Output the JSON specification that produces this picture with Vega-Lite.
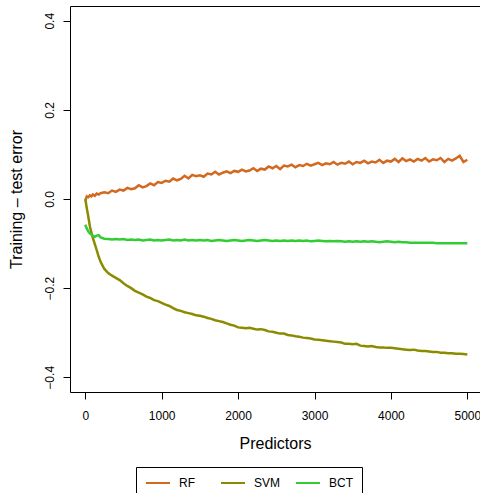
{
"$schema": "https://vega.github.io/schema/vega-lite/v6.json",
"width": 410,
"height": 386,
"autosize": {"type": "none"},
"padding": {"left": 70, "top": 6, "right": 0, "bottom": 101},
"config": {
  "font": "Liberation Sans",
  "view": {"stroke": "black", "strokeWidth": 1},
  "axis": {"domain": false, "grid": false, "tickColor": "black", "tickSize": 7, "labelFontSize": 12, "labelColor": "black", "titleFontSize": 16, "titleFontWeight": "normal", "titleColor": "black", "labelFont": "Liberation Sans", "titleFont": "Liberation Sans"}
},
"data": {"values": [
{"p":0,"RF":0.003,"SVM":0.000,"BCT":-0.058},
{"p":10,"RF":0.001,"SVM":-0.010,"BCT":-0.062},
{"p":20,"RF":0.006,"SVM":-0.021,"BCT":-0.066},
{"p":40,"RF":0.004,"SVM":-0.040,"BCT":-0.073},
{"p":60,"RF":0.008,"SVM":-0.061,"BCT":-0.077},
{"p":80,"RF":0.006,"SVM":-0.075,"BCT":-0.080},
{"p":100,"RF":0.010,"SVM":-0.088,"BCT":-0.083},
{"p":125,"RF":0.007,"SVM":-0.101,"BCT":-0.085},
{"p":150,"RF":0.012,"SVM":-0.115,"BCT":-0.082},
{"p":175,"RF":0.010,"SVM":-0.129,"BCT":-0.081},
{"p":200,"RF":0.013,"SVM":-0.141,"BCT":-0.086},
{"p":250,"RF":0.015,"SVM":-0.157,"BCT":-0.089},
{"p":300,"RF":0.013,"SVM":-0.166,"BCT":-0.090},
{"p":350,"RF":0.019,"SVM":-0.172,"BCT":-0.091},
{"p":400,"RF":0.016,"SVM":-0.177,"BCT":-0.090},
{"p":450,"RF":0.021,"SVM":-0.182,"BCT":-0.091},
{"p":500,"RF":0.019,"SVM":-0.189,"BCT":-0.090},
{"p":550,"RF":0.025,"SVM":-0.195,"BCT":-0.092},
{"p":600,"RF":0.022,"SVM":-0.200,"BCT":-0.091},
{"p":650,"RF":0.024,"SVM":-0.206,"BCT":-0.092},
{"p":700,"RF":0.031,"SVM":-0.210,"BCT":-0.091},
{"p":750,"RF":0.026,"SVM":-0.214,"BCT":-0.093},
{"p":800,"RF":0.029,"SVM":-0.219,"BCT":-0.092},
{"p":850,"RF":0.035,"SVM":-0.222,"BCT":-0.091},
{"p":900,"RF":0.031,"SVM":-0.227,"BCT":-0.093},
{"p":950,"RF":0.038,"SVM":-0.229,"BCT":-0.092},
{"p":1000,"RF":0.036,"SVM":-0.233,"BCT":-0.093},
{"p":1050,"RF":0.041,"SVM":-0.237,"BCT":-0.092},
{"p":1100,"RF":0.039,"SVM":-0.240,"BCT":-0.091},
{"p":1150,"RF":0.046,"SVM":-0.245,"BCT":-0.093},
{"p":1200,"RF":0.042,"SVM":-0.249,"BCT":-0.092},
{"p":1250,"RF":0.045,"SVM":-0.251,"BCT":-0.093},
{"p":1300,"RF":0.052,"SVM":-0.254,"BCT":-0.091},
{"p":1350,"RF":0.046,"SVM":-0.256,"BCT":-0.093},
{"p":1400,"RF":0.054,"SVM":-0.258,"BCT":-0.092},
{"p":1450,"RF":0.051,"SVM":-0.261,"BCT":-0.093},
{"p":1500,"RF":0.053,"SVM":-0.262,"BCT":-0.092},
{"p":1550,"RF":0.050,"SVM":-0.264,"BCT":-0.093},
{"p":1600,"RF":0.057,"SVM":-0.267,"BCT":-0.092},
{"p":1650,"RF":0.055,"SVM":-0.269,"BCT":-0.094},
{"p":1700,"RF":0.061,"SVM":-0.272,"BCT":-0.093},
{"p":1750,"RF":0.055,"SVM":-0.274,"BCT":-0.092},
{"p":1800,"RF":0.059,"SVM":-0.276,"BCT":-0.093},
{"p":1850,"RF":0.062,"SVM":-0.279,"BCT":-0.094},
{"p":1900,"RF":0.058,"SVM":-0.282,"BCT":-0.093},
{"p":1950,"RF":0.063,"SVM":-0.284,"BCT":-0.092},
{"p":2000,"RF":0.061,"SVM":-0.288,"BCT":-0.093},
{"p":2050,"RF":0.066,"SVM":-0.289,"BCT":-0.094},
{"p":2100,"RF":0.062,"SVM":-0.290,"BCT":-0.093},
{"p":2150,"RF":0.064,"SVM":-0.289,"BCT":-0.092},
{"p":2200,"RF":0.069,"SVM":-0.291,"BCT":-0.093},
{"p":2250,"RF":0.063,"SVM":-0.293,"BCT":-0.094},
{"p":2300,"RF":0.068,"SVM":-0.292,"BCT":-0.093},
{"p":2350,"RF":0.066,"SVM":-0.294,"BCT":-0.092},
{"p":2400,"RF":0.073,"SVM":-0.297,"BCT":-0.093},
{"p":2450,"RF":0.069,"SVM":-0.298,"BCT":-0.094},
{"p":2500,"RF":0.074,"SVM":-0.300,"BCT":-0.093},
{"p":2550,"RF":0.067,"SVM":-0.302,"BCT":-0.094},
{"p":2600,"RF":0.075,"SVM":-0.302,"BCT":-0.093},
{"p":2650,"RF":0.073,"SVM":-0.305,"BCT":-0.094},
{"p":2700,"RF":0.077,"SVM":-0.306,"BCT":-0.093},
{"p":2750,"RF":0.071,"SVM":-0.308,"BCT":-0.094},
{"p":2800,"RF":0.076,"SVM":-0.309,"BCT":-0.093},
{"p":2850,"RF":0.074,"SVM":-0.311,"BCT":-0.094},
{"p":2900,"RF":0.079,"SVM":-0.312,"BCT":-0.093},
{"p":2950,"RF":0.075,"SVM":-0.313,"BCT":-0.095},
{"p":3000,"RF":0.078,"SVM":-0.315,"BCT":-0.094},
{"p":3050,"RF":0.081,"SVM":-0.316,"BCT":-0.093},
{"p":3100,"RF":0.076,"SVM":-0.317,"BCT":-0.094},
{"p":3150,"RF":0.080,"SVM":-0.318,"BCT":-0.095},
{"p":3200,"RF":0.078,"SVM":-0.319,"BCT":-0.094},
{"p":3250,"RF":0.083,"SVM":-0.320,"BCT":-0.095},
{"p":3300,"RF":0.077,"SVM":-0.321,"BCT":-0.094},
{"p":3350,"RF":0.081,"SVM":-0.322,"BCT":-0.095},
{"p":3400,"RF":0.079,"SVM":-0.325,"BCT":-0.096},
{"p":3450,"RF":0.084,"SVM":-0.325,"BCT":-0.095},
{"p":3500,"RF":0.078,"SVM":-0.326,"BCT":-0.096},
{"p":3550,"RF":0.083,"SVM":-0.325,"BCT":-0.095},
{"p":3600,"RF":0.081,"SVM":-0.329,"BCT":-0.096},
{"p":3650,"RF":0.086,"SVM":-0.330,"BCT":-0.095},
{"p":3700,"RF":0.080,"SVM":-0.331,"BCT":-0.096},
{"p":3750,"RF":0.084,"SVM":-0.330,"BCT":-0.095},
{"p":3800,"RF":0.082,"SVM":-0.332,"BCT":-0.096},
{"p":3850,"RF":0.088,"SVM":-0.333,"BCT":-0.097},
{"p":3900,"RF":0.081,"SVM":-0.333,"BCT":-0.096},
{"p":3950,"RF":0.086,"SVM":-0.334,"BCT":-0.095},
{"p":4000,"RF":0.084,"SVM":-0.334,"BCT":-0.096},
{"p":4050,"RF":0.090,"SVM":-0.335,"BCT":-0.097},
{"p":4100,"RF":0.083,"SVM":-0.336,"BCT":-0.096},
{"p":4150,"RF":0.091,"SVM":-0.337,"BCT":-0.097},
{"p":4200,"RF":0.085,"SVM":-0.338,"BCT":-0.097},
{"p":4250,"RF":0.089,"SVM":-0.339,"BCT":-0.098},
{"p":4300,"RF":0.084,"SVM":-0.338,"BCT":-0.098},
{"p":4350,"RF":0.090,"SVM":-0.340,"BCT":-0.098},
{"p":4400,"RF":0.086,"SVM":-0.341,"BCT":-0.098},
{"p":4450,"RF":0.092,"SVM":-0.341,"BCT":-0.098},
{"p":4500,"RF":0.084,"SVM":-0.342,"BCT":-0.098},
{"p":4550,"RF":0.089,"SVM":-0.343,"BCT":-0.098},
{"p":4600,"RF":0.087,"SVM":-0.343,"BCT":-0.099},
{"p":4650,"RF":0.092,"SVM":-0.345,"BCT":-0.099},
{"p":4700,"RF":0.083,"SVM":-0.345,"BCT":-0.099},
{"p":4750,"RF":0.090,"SVM":-0.346,"BCT":-0.099},
{"p":4800,"RF":0.086,"SVM":-0.346,"BCT":-0.099},
{"p":4850,"RF":0.091,"SVM":-0.347,"BCT":-0.099},
{"p":4900,"RF":0.097,"SVM":-0.347,"BCT":-0.099},
{"p":4950,"RF":0.083,"SVM":-0.348,"BCT":-0.099},
{"p":5000,"RF":0.088,"SVM":-0.349,"BCT":-0.099}
]},
"transform": [{"fold": ["RF", "SVM", "BCT"], "as": ["method", "value"]}],
"mark": {"type": "line", "strokeWidth": 2.5, "clip": true},
"encoding": {
  "x": {"field": "p", "type": "quantitative",
        "scale": {"domain": [-200, 5166], "nice": false, "zero": false},
        "axis": {"values": [0, 1000, 2000, 3000, 4000, 5000], "format": "d", "title": "Predictors", "labelPadding": 11, "titlePadding": 14, "labelFlush": false, "labelOverlap": false}},
  "y": {"field": "value", "type": "quantitative",
        "scale": {"domain": [-0.433, 0.433], "nice": false, "zero": false},
        "axis": {"values": [-0.4, -0.2, 0, 0.2, 0.4], "format": ".1f", "labelAngle": -90, "title": "Training – test error", "labelPadding": 7, "titlePadding": 19}},
  "color": {"field": "method", "type": "nominal",
        "scale": {"domain": ["RF", "SVM", "BCT"], "range": ["#D2691E", "#8B8B00", "#32CD32"]},
        "legend": {"orient": "none", "legendX": 66, "legendY": 461, "direction": "horizontal", "columns": 3, "gridAlign": "all", "title": null, "symbolType": "M-2,0H2", "symbolSize": 144, "symbolOffset": 6, "symbolStrokeWidth": 2, "labelFontSize": 12, "labelOffset": 14, "columnPadding": 11, "padding": 9, "strokeColor": "black", "fillColor": "white", "labelColor": "black", "labelFont": "Liberation Sans"}}
}
}
